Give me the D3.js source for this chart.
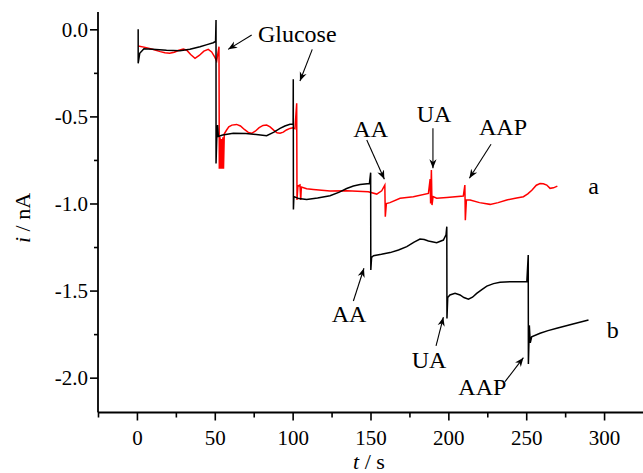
<!DOCTYPE html>
<html lang="en">
<head>
	<meta charset="utf-8">
	<script src="https://d3js.org/d3.v7.min.js"></script>
	<style>
		body { margin: 0; background: #fff; }
		text { font-family: "Liberation Serif", "Times New Roman", serif; fill: #000; }
	</style>
</head>
<body>
	<script type="text/javascript">

		var svgWidth = 643;
		var svgHeight = 473;

		// curve a (red): [t / s, i / nA]
		var curveA = [
			[0.8,-0.096],[6,-0.105],[10,-0.115],[15,-0.128],[18,-0.135],[21,-0.138],[24,-0.132],[27,-0.12],
			[29.8,-0.113],[32,-0.12],[34.5,-0.145],[37.3,-0.167],[40,-0.15],[43,-0.125],[45.8,-0.115],[48,-0.13],
			[50,-0.16],[51.2,-0.182],[52.7,-0.10],[52.9,-0.80],[53.4,-0.62],[53.8,-0.80],[54.3,-0.63],[54.7,-0.80],
			[55.2,-0.62],[55.6,-0.80],[56.1,-0.60],[57.6,-0.578],[59,-0.56],[61,-0.55],[64,-0.546],[66.5,-0.555],
			[69,-0.575],[71.5,-0.592],[73.7,-0.597],[76,-0.585],[78.5,-0.565],[81,-0.552],[83.3,-0.55],[85.5,-0.56],
			[88,-0.58],[90,-0.594],[91.9,-0.597],[94,-0.59],[96,-0.578],[98.3,-0.569],[100,-0.565],[101.5,-0.57],
			[102.6,-0.425],[102.8,-0.98],[103.4,-0.90],[104.7,-0.894],[105.2,-0.98],[105.6,-0.905],[109,-0.915],
			[113.3,-0.919],[124,-0.928],[134.7,-0.927],[148.6,-0.933],[154,-0.946],[157.2,-0.927],[159.2,-0.894],[159.5,-1.076],
			[160.2,-1.0],[162.5,-0.995],[169,-0.97],[177.5,-0.961],[187.2,-0.942],[188.3,-0.86],[188.6,-1.0],[189.1,-0.808],
			[189.5,-1.009],[190.2,-0.96],[192.5,-0.97],[199,-0.965],[209.6,-0.957],[210.6,-0.894],[210.9,-1.096],[211.6,-0.98],
			[214,-0.98],[220,-0.995],[226.8,-1.005],[232,-0.995],[237.5,-0.98],[243,-0.97],[248.2,-0.961],[251,-0.945],
			[253.6,-0.924],[256.5,-0.895],[258.9,-0.885],[261,-0.887],[263.2,-0.894],[265.3,-0.913],[267.5,-0.91],[270,-0.9]
		];

		// curve b (black): [t / s, i / nA]
		var curveB = [
			[0.8,0.0],[0.8,-0.195],[1.8,-0.138],[4.5,-0.112],[10,-0.115],[19,-0.12],[27.6,-0.123],[34,-0.115],
			[40.5,-0.10],[45,-0.088],[49,-0.077],[50.5,-0.07],[50.8,0.053],[50.8,-0.77],[51.3,-0.62],[51.8,-0.55],
			[52.3,-0.615],[55,-0.607],[61.9,-0.597],[70,-0.598],[78,-0.605],[83.3,-0.611],[88,-0.59],[91.9,-0.569],
			[95,-0.555],[98.3,-0.545],[100.3,-0.545],[100.4,-0.287],[100.5,-1.034],[100.8,-0.96],[104,-0.972],[109,-0.977],
			[116,-0.968],[124,-0.955],[130,-0.935],[134.7,-0.914],[139,-0.9],[143.3,-0.891],[149.3,-0.885],[150.1,-0.823],
			[150.2,-1.382],[150.7,-1.31],[151.9,-1.30],[157,-1.292],[162.6,-1.282],[168,-1.267],[173.3,-1.248],[178,-1.222],
			[181.8,-1.204],[184.5,-1.207],[187.2,-1.215],[192.5,-1.225],[196.8,-1.21],[198.5,-1.18],[199,-1.133],[199.1,-1.66],
			[199.6,-1.54],[201,-1.525],[204.3,-1.516],[207.5,-1.525],[210,-1.54],[212.9,-1.55],[215.5,-1.538],[218.2,-1.516],
			[221.5,-1.494],[224.7,-1.474],[229,-1.46],[233.2,-1.452],[240,-1.449],[250.4,-1.449],[251.3,-1.296],[251.4,-1.921],
			[252,-1.70],[252.6,-1.80],[253.5,-1.765],[258.9,-1.745],[264,-1.73],[269.6,-1.716],[280,-1.692],[290,-1.669]
		];

		var xMajorTicks = [0, 50, 100, 150, 200, 250, 300];
		var xMinorTicks = [-25, 25, 75, 125, 175, 225, 275];
		var yMajorTicks = [0, -0.5, -1.0, -1.5, -2.0];
		var yMinorTicks = [-0.25, -0.75, -1.25, -1.75];

		// annotations: label, text position [t, i], arrow from [t, i] to [t, i]
		var labels = [
			{text: "Glucose", at: [77.7, -0.073]},
			{text: "AA", at: [139, -0.617]},
			{text: "UA", at: [179.7, -0.530]},
			{text: "AAP", at: [219.7, -0.607]},
			{text: "a", at: [289.9, -0.947]},
			{text: "AA", at: [125.1, -1.679]},
			{text: "UA", at: [176.5, -1.943]},
			{text: "AAP", at: [206.4, -2.099]},
			{text: "b", at: [301.7, -1.774]}
		];
		var arrows = [
			[[73.7, -0.033], [58.6, -0.115]],
			[[112.6, -0.115], [104.7, -0.297]],
			[[147.6, -0.636], [158.9, -0.861]],
			[[190.1, -0.568], [190.1, -0.798]],
			[[227.4, -0.660], [213.5, -0.855]],
			[[139, -1.56], [145.8, -1.372]],
			[[192.1, -1.818], [196.8, -1.653]],
			[[236.4, -2.023], [248.2, -1.885]]
		];

		var svg = d3.select("body")
			.append("svg")
			.attr("width", svgWidth)
			.attr("height", svgHeight);

		var x = d3.scaleLinear().domain([-25, 325]).range([98, 643]);
		var y = d3.scaleLinear().domain([-2.2, 0.1]).range([412.5, 11.9]);

		var fmtX = function(d) { return d3.format("d")(d).replace("\u2212", "-"); };
		var fmtY = function(d) { return d3.format(".1f")(d).replace("\u2212", "-"); };

		//x axis, major + minor
		var gx = svg.append("g")
			.attr("transform", "translate(0," + y(-2.2) + ")")
			.call(d3.axisBottom(x).tickValues(xMajorTicks).tickSize(8).tickPadding(10).tickFormat(fmtX));
		svg.append("g")
			.attr("transform", "translate(0," + y(-2.2) + ")")
			.call(d3.axisBottom(x).tickValues(xMinorTicks).tickSize(5).tickFormat(""))
			.select(".domain").remove();

		//y axis, major + minor
		var gy = svg.append("g")
			.attr("transform", "translate(" + x(-25) + ",0)")
			.call(d3.axisLeft(y).tickValues(yMajorTicks).tickSize(8).tickPadding(2).tickFormat(fmtY));
		svg.append("g")
			.attr("transform", "translate(" + x(-25) + ",0)")
			.call(d3.axisLeft(y).tickValues(yMinorTicks).tickSize(4).tickFormat(""))
			.select(".domain").remove();

		gx.select(".domain").attr("d", "M" + x(-25) + ",0H" + svgWidth).attr("stroke-width", 1.8);
		gy.select(".domain").attr("d", "M0," + y(0.1) + "V" + y(-2.2)).attr("stroke-width", 1.8);
		svg.selectAll(".tick line").attr("stroke-width", 1.6);
		gx.attr("font-family", "'Liberation Serif', serif").attr("font-size", 21);
		gy.attr("font-family", "'Liberation Serif', serif").attr("font-size", 21);

		//axis titles
		svg.append("text")
			.attr("x", 369).attr("y", 469)
			.attr("text-anchor", "middle")
			.attr("font-size", 22)
			.html('<tspan font-style="italic">t</tspan> / s');
		svg.append("text")
			.attr("transform", "translate(30,218) rotate(-90)")
			.attr("text-anchor", "middle")
			.attr("font-size", 22)
			.html('<tspan font-style="italic">i</tspan> / nA');

		var line = d3.line()
			.x(function(d) { return x(d[0]); })
			.y(function(d) { return y(d[1]); });

		svg.append("path")
			.datum(curveA)
			.attr("fill", "none")
			.attr("stroke", "#ff0000")
			.attr("stroke-width", 1.5)
			.attr("d", line);

		svg.append("path")
			.datum(curveB)
			.attr("fill", "none")
			.attr("stroke", "#000")
			.attr("stroke-width", 1.5)
			.attr("d", line);

		//arrow heads
		svg.append("defs").append("marker")
			.attr("id", "head")
			.attr("viewBox", "0 0 10 10")
			.attr("refX", 10).attr("refY", 5)
			.attr("markerWidth", 9).attr("markerHeight", 9)
			.attr("markerUnits", "userSpaceOnUse")
			.attr("orient", "auto")
			.append("path")
				.attr("d", "M0,1 L10,5 L0,9 L3,5 Z")
				.attr("fill", "#000");

		svg.selectAll(".arrow")
			.data(arrows)
			.enter()
			.append("line")
				.attr("class", "arrow")
				.attr("x1", function(d) { return x(d[0][0]); })
				.attr("y1", function(d) { return y(d[0][1]); })
				.attr("x2", function(d) { return x(d[1][0]); })
				.attr("y2", function(d) { return y(d[1][1]); })
				.attr("stroke", "#000")
				.attr("stroke-width", 1.1)
				.attr("marker-end", "url(#head)");

		svg.selectAll(".lbl")
			.data(labels)
			.enter()
			.append("text")
				.attr("class", "lbl")
				.attr("x", function(d) { return x(d.at[0]); })
				.attr("y", function(d) { return y(d.at[1]); })
				.attr("font-size", 24)
				.text(function(d) { return d.text; });

	</script>
</body>
</html>
